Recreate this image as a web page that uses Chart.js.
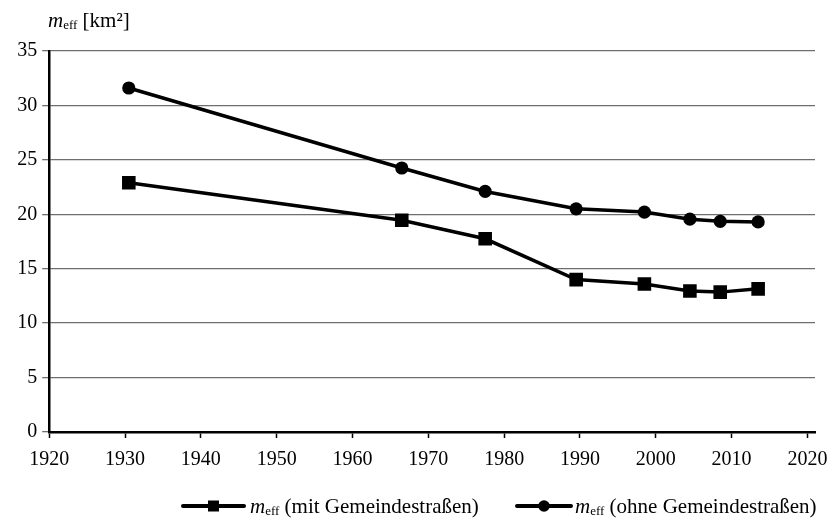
<!DOCTYPE html>
<html>
<head>
<meta charset="utf-8">
<script src="https://cdn.jsdelivr.net/npm/chart.js@4.4.0/dist/chart.umd.min.js"></script>
<style>
  html, body { margin: 0; padding: 0; background: #fff; }
  #wrap { width: 833px; height: 525px; position: relative; }
</style>
</head>
<body>
<div id="wrap"><canvas id="c" width="833" height="525"></canvas></div>
<script>
const years = [1930.5, 1966.5, 1977.5, 1989.5, 1998.5, 2004.5, 2008.5, 2013.5];
const mitGemeindestrassen = [22.9, 19.45, 17.75, 14.0, 13.6, 12.95, 12.85, 13.15];
const ohneGemeindestrassen = [31.6, 24.25, 22.1, 20.5, 20.2, 19.55, 19.35, 19.3];
const xTickValues = [1920, 1930, 1940, 1950, 1960, 1970, 1980, 1990, 2000, 2010, 2020];
const yTickValues = [0, 5, 10, 15, 20, 25, 30, 35];
const seriesNames = ['(mit Gemeindestraßen)', '(ohne Gemeindestraßen)'];
const axisTitle = ['m', 'eff', ' [km²]'];

const FONT = '"Liberation Serif", "Times New Roman", serif';

function pts(xs, ys) { return xs.map((x, i) => ({ x: x, y: ys[i] })); }

const overlay = {
  id: 'overlay',
  afterDraw(chart) {
    const ctx = chart.ctx;
    ctx.save();
    ctx.fillStyle = '#000';
    ctx.textBaseline = 'alphabetic';
    function meff(x, y, size, rest) {
      ctx.font = 'italic ' + size + 'px ' + FONT;
      ctx.fillText(axisTitle[0], x, y);
      x += ctx.measureText(axisTitle[0]).width;
      ctx.font = Math.round(size * 0.64) + 'px ' + FONT;
      ctx.fillText(axisTitle[1], x, y + 2);
      x += ctx.measureText(axisTitle[1]).width;
      ctx.font = size + 'px ' + FONT;
      ctx.fillText(rest, x, y);
    }
    meff(48, 27, 21, axisTitle[2]);
    const ly = 506;
    function legendItem(x0, x1, style, textX, label) {
      ctx.strokeStyle = '#000';
      ctx.lineWidth = 4;
      ctx.lineCap = 'round';
      ctx.beginPath();
      ctx.moveTo(x0, ly); ctx.lineTo(x1, ly); ctx.stroke();
      const cx = (x0 + x1) / 2;
      ctx.beginPath();
      if (style === 'rect') ctx.rect(cx - 5.5, ly - 5.5, 11, 11);
      else ctx.arc(cx, ly, 5.8, 0, Math.PI * 2);
      ctx.fill();
      meff(textX, ly + 7, 21, ' ' + label);
    }
    legendItem(183, 244, 'rect', 250, seriesNames[0]);
    legendItem(517, 571, 'circle', 575, seriesNames[1]);
    ctx.restore();
  }
};

new Chart(document.getElementById('c'), {
  type: 'line',
  data: {
    datasets: [
      {
        label: 'meff ' + seriesNames[0],
        data: pts(years, mitGemeindestrassen),
        borderColor: '#000', backgroundColor: '#000',
        borderWidth: 3.5, pointStyle: 'rect', pointRadius: 9.6,
        pointBorderWidth: 0, pointBackgroundColor: '#000', tension: 0
      },
      {
        label: 'meff ' + seriesNames[1],
        data: pts(years, ohneGemeindestrassen),
        borderColor: '#000', backgroundColor: '#000',
        borderWidth: 3.5, pointStyle: 'circle', pointRadius: 6.6,
        pointBorderWidth: 0, pointBackgroundColor: '#000', tension: 0
      }
    ]
  },
  options: {
    responsive: false,
    animation: false,
    layout: { padding: { top: 51, right: 18, left: 0, bottom: 0 } },
    plugins: { legend: { display: false }, tooltip: { enabled: false }, title: { display: false } },
    scales: {
      x: {
        type: 'linear', min: 1920, max: 2021,
        afterBuildTicks(scale) { scale.ticks = xTickValues.map(v => ({ value: v })); },
        afterFit(scale) { scale.height = 93; scale.paddingLeft = 0; scale.paddingRight = 0; },
        grid: { drawOnChartArea: false, drawTicks: true, tickLength: 6, tickColor: '#000', tickWidth: 1.5 },
        border: { color: '#000', width: 2.5 },
        ticks: { color: '#000', font: { family: FONT, size: 20 }, padding: 10, maxRotation: 0, autoSkip: false,
                 callback: v => String(v) }
      },
      y: {
        type: 'linear', min: 0, max: 35,
        afterBuildTicks(scale) { scale.ticks = yTickValues.map(v => ({ value: v })); },
        afterFit(scale) { scale.width = 49.2; scale.paddingTop = 0; scale.paddingBottom = 0; },
        grid: { color: '#6e6e6e', lineWidth: 1.3, drawTicks: true, tickLength: 7, tickColor: '#6e6e6e' },
        border: { color: '#000', width: 2.5 },
        ticks: { color: '#000', font: { family: FONT, size: 20 }, padding: 5, callback: v => String(v) }
      }
    }
  },
  plugins: [overlay]
});
</script>
</body>
</html>
